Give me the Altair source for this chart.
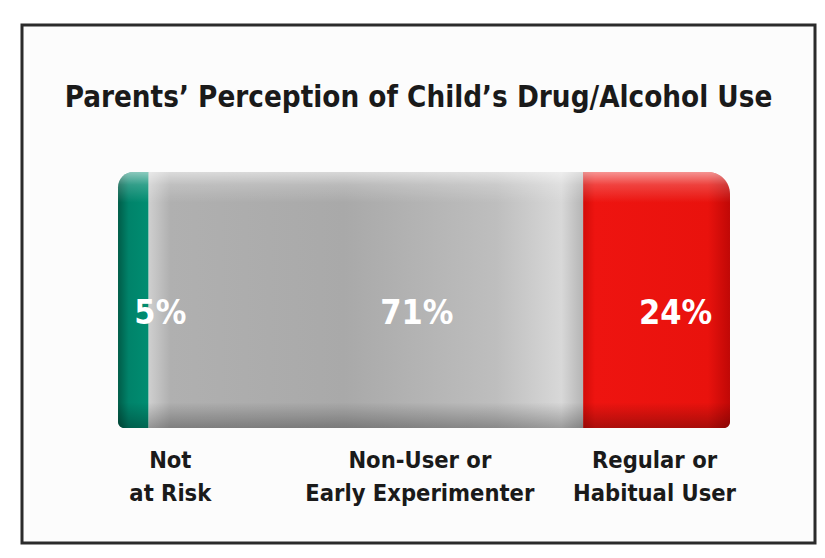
import altair as alt
import pandas as pd

# ---- data ----
categories = ["Not at Risk", "Non-User or Early Experimenter", "Regular or Habitual User"]
label_text = ["Not\nat Risk", "Non-User or\nEarly Experimenter", "Regular or\nHabitual User"]
values = [5, 71, 24]
value_labels = ["5%", "71%", "24%"]
title_text = "Parents’ Perception of Child’s Drug/Alcohol Use"

df = pd.DataFrame({"category": categories, "label": label_text,
                   "value": values, "pct": value_labels})
df["end"] = df["value"].cumsum()
df["start"] = df["end"] - df["value"]
df["mid"] = (df["start"] + df["end"]) / 2
df["row"] = "bar"

FONT = "DejaVu Sans Condensed, Liberation Sans, sans-serif"

W, H = 793, 518
xscale = alt.Scale(domain=[-15.69, 113.89], nice=False, zero=False)
yscale = alt.Scale(paddingInner=0, paddingOuter=0.5117, align=0.561)


def hgrad(stops):
    return alt.Gradient(gradient="linear", x1=0, y1=0, x2=1, y2=0,
                        stops=[alt.GradientStop(color=c, offset=o) for o, c in stops])


def vgrad(stops):
    return alt.Gradient(gradient="linear", x1=0, y1=0, x2=0, y2=1,
                        stops=[alt.GradientStop(color=c, offset=o) for o, c in stops])


styles = {
    "Not at Risk": dict(
        fill=hgrad([(0, "#005c48"), (0.35, "#00836a"), (1, "#008d71")]),
        corners=dict(cornerRadiusTopLeft=20, cornerRadiusBottomLeft=6),
        pct_dx=27, lab_dx=37),
    "Non-User or Early Experimenter": dict(
        fill=hgrad([(0, "#cfcfcf"), (0.05, "#b0b0b0"), (0.45, "#a9a9a9"),
                    (0.8, "#bebebe"), (0.95, "#d8d8d8"), (1, "#b5b5b5")]),
        corners=dict(),
        pct_dx=51, lab_dx=54),
    "Regular or Habitual User": dict(
        fill=hgrad([(0, "#d20c08"), (0.08, "#ee1410"), (0.85, "#e9120d"), (1, "#c00806")]),
        corners=dict(cornerRadiusTopRight=22, cornerRadiusBottomRight=6),
        pct_dx=19, lab_dx=-2),
}

overlay = vgrad([(0, "rgba(255,255,255,0.55)"), (0.05, "rgba(255,255,255,0.2)"),
                 (0.12, "rgba(255,255,255,0)"), (0.9, "rgba(0,0,0,0)"),
                 (1, "rgba(0,0,0,0.28)")])

base = alt.Chart(df)
layers = []
for cat in categories:
    st = styles[cat]
    sub = base.transform_filter(alt.datum.category == cat)
    enc = dict(x=alt.X("start:Q", scale=xscale, axis=None),
               x2="end:Q",
               y=alt.Y("row:N", scale=yscale, axis=None))
    layers.append(sub.mark_bar(fill=st["fill"], **st["corners"]).encode(**enc))
    layers.append(sub.mark_bar(fill=overlay, **st["corners"]).encode(**enc))

for cat in categories:
    st = styles[cat]
    sub = base.transform_filter(alt.datum.category == cat)
    layers.append(sub.mark_text(font=FONT, fontSize=34, fontWeight="bold", color="white",
                                baseline="alphabetic", align="center",
                                dx=st["pct_dx"], dy=24).encode(
        x=alt.X("mid:Q", scale=xscale, axis=None),
        y=alt.Y("row:N", scale=yscale, axis=None),
        text="pct:N"))
    layers.append(sub.mark_text(font=FONT, fontSize=23.5, fontWeight="bold", color="#1a1a1a",
                                baseline="alphabetic", align="center", lineBreak="\n",
                                lineHeight=33, dx=st["lab_dx"], dy=168).encode(
        x=alt.X("mid:Q", scale=xscale, axis=None),
        y=alt.Y("row:N", scale=yscale, axis=None),
        text="label:N"))

chart = alt.layer(*layers).properties(
    width=W, height=H,
    title=alt.TitleParams(text=title_text, font=FONT, fontSize=29.3, fontWeight="bold",
                          color="#1a1a1a", anchor="middle", frame="group",
                          baseline="alphabetic", offset=-111),
    padding={"left": 14, "top": 17, "right": 2, "bottom": 2},
    autosize=alt.AutoSizeParams(type="none"),
    background="white",
).configure_view(
    fill="#fcfcfc", stroke="#2b2b2b", strokeWidth=3
)

chart.save("out.html", embed_options={"renderer": "svg", "actions": False})
